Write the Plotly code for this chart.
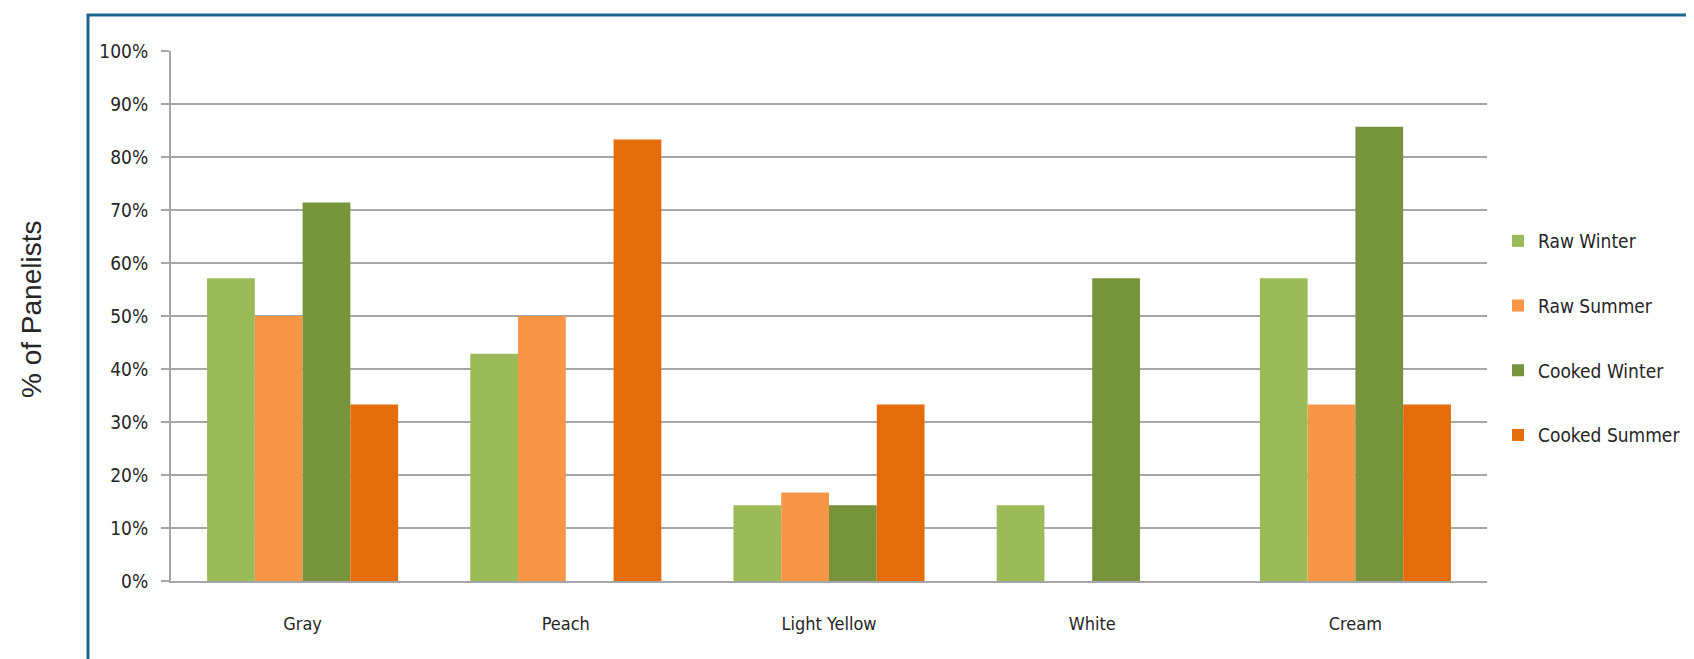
import plotly.graph_objects as go

categories = ["Gray", "Peach", "Light Yellow", "White", "Cream"]
raw_winter = [0.571, 0.429, 0.143, 0.143, 0.571]
raw_summer = [0.500, 0.500, 0.167, 0.0, 0.333]
cooked_winter = [0.714, 0.0, 0.143, 0.571, 0.857]
cooked_summer = [0.333, 0.833, 0.333, 0.0, 0.333]
series_names = ["Raw Winter", "Raw Summer", "Cooked Winter", "Cooked Summer"]
series_values = [raw_winter, raw_summer, cooked_winter, cooked_summer]
colors = ["#9BBB59", "#F79646", "#77933C", "#E46C0A"]
y_ticks = [i / 10 for i in range(11)]
y_tick_labels = [f"{i * 10}%" for i in range(11)]

NARROW = "DejaVu Sans Condensed, sans-serif"
TXT = "#262626"

fig = go.Figure()
for i, (name, vals, col) in enumerate(zip(series_names, series_values, colors)):
    fig.add_trace(go.Bar(name=name, x=categories, y=vals, marker_color=col,
                         marker_line_width=0, legendgroup=f"g{i}"))

W, H = 1694, 659
L, R, T, B = 163, 215, 43, 86
pw, ph = W - L - R, H - T - B

fig.update_layout(
    width=W, height=H,
    margin=dict(l=L, r=R, t=T, b=B, autoexpand=False),
    paper_bgcolor="white", plot_bgcolor="white",
    barmode="group", bargap=0.274, bargroupgap=0,
    showlegend=True,
    legend=dict(x=(1490 - L) / pw, xanchor="left", y=(573 - 214) / ph, yanchor="top",
                font=dict(family=NARROW, size=19, color=TXT),
                tracegroupgap=37, bgcolor="rgba(0,0,0,0)", itemclick=False,
                itemwidth=30),
    xaxis=dict(showline=True, linecolor="#A6A6A6", linewidth=2, ticks="",
               tickfont=dict(family=NARROW, size=18, color=TXT),
               ticklabelstandoff=25, showgrid=False, fixedrange=True),
    yaxis=dict(range=[0, 1], tickvals=y_ticks, ticktext=y_tick_labels,
               showgrid=True, gridcolor="#A6A6A6", gridwidth=2,
               showline=True, linecolor="#A6A6A6", linewidth=2,
               ticks="outside", ticklen=8, tickcolor="#A6A6A6", tickwidth=2,
               tickfont=dict(family=NARROW, size=19, color=TXT),
               ticklabelstandoff=9,
               zeroline=False, fixedrange=True),
)

# outer border
fig.add_shape(type="rect", xref="paper", yref="paper",
              x0=(80 - L) / pw, x1=(1690 - L) / pw,
              y0=(573 - 680) / ph, y1=(573 - 7) / ph,
              line=dict(color="#1F6391", width=3), fillcolor="rgba(0,0,0,0)", layer="below")

fig.add_annotation(text="% of Panelists", xref="paper", yref="paper",
                   x=(23 - L) / pw, y=(573 - 302) / ph, xanchor="center", yanchor="middle",
                   textangle=-90, showarrow=False,
                   font=dict(family="Liberation Sans, Arial, sans-serif", size=28, color=TXT))

fig.write_html("out.html")
